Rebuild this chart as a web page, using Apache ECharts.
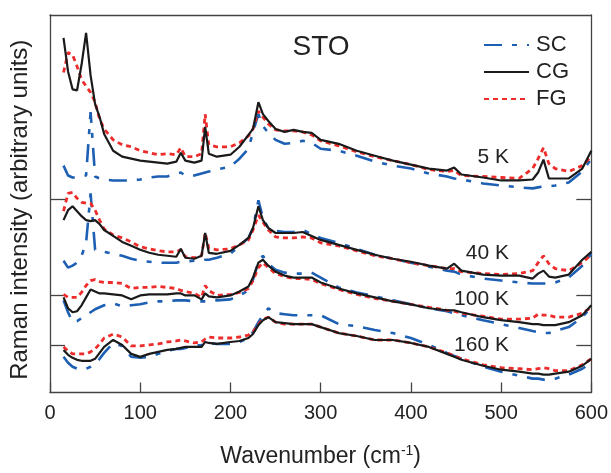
<!DOCTYPE html>
<html>
<head>
<meta charset="utf-8">
<script src="https://cdn.jsdelivr.net/npm/echarts@6/dist/echarts.min.js"></script>
<style>
  html, body { margin: 0; padding: 0; background: #fff; }
  #main { width: 611px; height: 473px; }
</style>
</head>
<body>
<div id="main"></div>
<script>
// wavenumber grid (cm-1) shared by all spectra
const wavenumbers = [15,20,25,30,35,40,45,50,55,60,70,80,90,100,110,120,130,140,145,150,
  160,168,172,176,185,200,210,220,225,231,236,242,250,260,270,280,290,300,320,340,
  360,380,400,420,440,448,456,480,500,520,535,541,547,553,560,575,590,600];

// intensities, offset per temperature (arbitrary units)
const sc5 = [229,219,217,217,218,219,283,218,216,215,214,214,214,215,217,218,218,221,222,219,
  219,221,222,223,225,228,236,246,263,281,269,262,255,251,252,254,252,246,244,239,
  233,229,226,221,218,216,215,211,209,207,206,207,208,208,209,212,223,236];
const cg5 = [358,324,306,305,331,363,320,291,278,261,244,238,236,234,233,232,231,233,242,234,
  232,234,268,241,238,240,248,260,266,293,281,274,266,263,265,263,262,255,251,244,
  239,234,230,226,224,227,220,217,214,214,215,222,235,216,216,216,226,244];
const fg5 = [323,343,341,329,316,309,303,293,276,266,255,250,248,244,242,240,241,240,247,238,
  238,241,281,250,248,248,252,259,266,284,278,271,265,264,264,263,260,254,249,243,
  238,234,230,225,223,224,219,218,217,216,226,236,247,231,226,223,229,238];

const sc40 = [133,126,128,131,138,151,201,144,142,142,140,138,135,133,132,131,131,131,132,132,
  133,133,134,134,136,140,148,156,166,194,176,166,163,162,162,164,160,156,151,145,
  139,135,131,127,123,122,119,115,113,111,110,110,110,110,111,116,128,140];
const cg40 = [174,184,188,183,178,174,173,174,170,164,158,152,148,144,141,139,138,137,145,136,
  135,138,161,141,140,143,149,156,166,188,174,166,161,161,161,162,158,154,149,144,
  139,135,132,128,125,130,123,119,118,118,115,120,123,117,116,119,134,142];
const fg40 = [183,201,202,196,192,191,191,184,174,165,159,156,152,147,145,143,142,142,144,137,
  136,138,161,146,144,145,149,154,164,179,172,164,157,156,156,157,156,151,148,143,
  138,135,131,128,125,125,122,120,119,120,123,131,138,130,125,123,131,139];

const sc100 = [93,81,71,72,75,78,81,84,86,88,90,87,88,89,91,92,92,93,93,93,
  92,92,92,92,93,94,98,103,114,132,138,130,124,121,120,120,121,116,106,101,
  97,93,89,85,82,80,78,73,69,65,62,61,60,60,62,66,76,86];
const cg100 = [96,85,81,82,88,96,104,102,100,100,99,98,94,98,99,99,99,100,100,98,
  98,94,100,97,96,98,102,107,116,131,134,128,122,118,116,116,116,111,105,100,
  96,92,89,85,83,83,81,76,73,71,69,69,68,68,68,71,78,88];
const fg100 = [99,96,96,96,101,108,113,114,112,111,111,110,105,106,106,107,106,105,103,102,
  100,96,108,103,98,99,101,105,113,126,131,126,120,117,115,115,114,110,104,99,
  95,92,89,86,83,82,80,77,74,74,75,79,78,78,76,76,80,86];

const sc160 = [36,30,26,24,23,24,26,29,34,40,50,47,36,35,36,39,42,44,44,45,
  47,48,49,50,49,49,51,55,61,71,78,85,80,79,78,78,78,78,69,67,
  63,60,55,48,40,37,34,26,21,17,14,14,13,13,14,18,24,30];
const cg160 = [43,38,35,33,32,32,32,34,40,46,53,48,39,36,39,41,43,44,45,46,
  46,46,51,50,49,51,52,55,59,68,73,76,71,70,69,69,69,66,60,57,
  53,53,50,46,39,36,33,27,23,21,19,19,18,18,19,21,27,34];
const fg160 = [46,42,39,39,39,39,41,44,49,55,59,56,47,47,48,49,51,52,53,52,
  50,51,54,56,55,55,56,58,61,69,74,76,71,69,69,69,69,66,60,57,
  53,53,50,46,40,37,34,28,25,24,23,24,25,24,22,22,28,34];

const xTicks = [0, 100, 200, 300, 400, 500, 600];
const baselineTicks = [48, 98, 195];   // offset marks on the side axes
const tempLabels = ['5 K', '40 K', '100 K', '160 K'];

const FONT = '"Liberation Sans", Arial, Helvetica, sans-serif';

const styles = {
  SC: { color: '#1d5fb3', width: 2.6, type: [18, 10, 5, 10] },
  CG: { color: '#1a1a1a', width: 2.2, type: 'solid' },
  FG: { color: '#ee2b2b', width: 2.8, type: [5, 4] }
};

function mk(name, vals) {
  return {
    name: name,
    type: 'line',
    data: wavenumbers.map((w, i) => [w, vals[i]]),
    symbol: 'none',
    showSymbol: false,
    legendIcon: 'none',
    lineStyle: styles[name],
    itemStyle: { color: styles[name].color },
    z: name === 'CG' ? 4 : (name === 'FG' ? 3 : 2)
  };
}

const series = [
  mk('SC', sc5), mk('FG', fg5), mk('CG', cg5),
  mk('SC', sc40), mk('FG', fg40), mk('CG', cg40),
  mk('SC', sc100), mk('FG', fg100), mk('CG', cg100),
  mk('SC', sc160), mk('FG', fg160), mk('CG', cg160)
];

const tempY = [157, 253, 299, 345];

var myChart = echarts.init(document.getElementById('main'));

var option = {
  animation: false,
  backgroundColor: '#fff',
  grid: { left: 50, right: 19, top: 15, bottom: 77 },
  legend: {
    data: ['SC', 'CG', 'FG'],
    orient: 'vertical',
    left: 478,
    top: 29,
    itemWidth: 45,
    itemHeight: 14,
    itemGap: 5,
    itemStyle: { opacity: 0 },
    textStyle: { fontSize: 22, color: '#222', fontFamily: FONT, padding: [0, 0, 0, 2] }
  },
  xAxis: [{
    type: 'value',
    min: xTicks[0],
    max: xTicks[xTicks.length - 1],
    interval: 100,
    axisLine: { lineStyle: { color: '#444', width: 1.3 } },
    axisTick: { inside: true, length: 10, lineStyle: { color: '#444', width: 1.3 } },
    axisLabel: { fontSize: 20, color: '#222', fontFamily: FONT, margin: 11 },
    splitLine: { show: false },
    name: '{a|Wavenumber (cm}{s|-1}{a|)}',
    nameLocation: 'middle',
    nameGap: 52,
    nameTextStyle: {
      rich: {
        a: { fontSize: 23, color: '#222', fontFamily: FONT },
        s: { fontSize: 14, color: '#222', fontFamily: FONT, verticalAlign: 'top', padding: [0, 0, 10, 0] }
      }
    }
  }, {
    type: 'value',
    position: 'top',
    min: 0, max: 600,
    axisLine: { onZero: false, lineStyle: { color: '#444', width: 1.3 } },
    axisTick: { show: false },
    axisLabel: { show: false },
    splitLine: { show: false }
  }],
  yAxis: [{
    type: 'value',
    min: 0,
    max: 381,
    axisLine: { show: true, lineStyle: { color: '#444', width: 1.3 } },
    axisTick: { show: true, inside: true, length: 15, customValues: baselineTicks,
      lineStyle: { color: '#444', width: 1.3 } },
    axisLabel: { show: false },
    splitLine: { show: false },
    name: 'Raman intensity (arbitrary units)',
    nameLocation: 'middle',
    nameRotate: 90,
    nameGap: 18,
    nameTextStyle: { fontSize: 24, color: '#222', fontFamily: FONT, padding: [0, 12, 0, 0] }
  }, {
    type: 'value',
    position: 'right',
    min: 0,
    max: 381,
    axisLine: { show: true, onZero: false, lineStyle: { color: '#444', width: 1.3 } },
    axisTick: { show: true, inside: true, length: 15, customValues: baselineTicks,
      lineStyle: { color: '#444', width: 1.3 } },
    axisLabel: { show: false },
    splitLine: { show: false }
  }],
  graphic: [
    { type: 'text', x: 321, y: 47, style: { text: 'STO', font: '28px ' + FONT, fill: '#222',
      textAlign: 'center', textVerticalAlign: 'middle' } }
  ].concat(tempLabels.map((t, i) => ({
    type: 'text', x: 509, y: tempY[i],
    style: { text: t, font: '21px ' + FONT, fill: '#222', textAlign: 'right', textVerticalAlign: 'middle' }
  }))),
  series: series
};

myChart.setOption(option);
</script>
</body>
</html>
